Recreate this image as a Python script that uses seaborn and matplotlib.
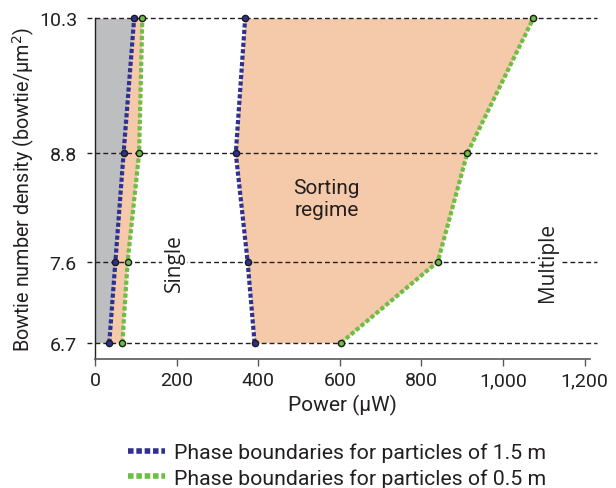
import matplotlib
matplotlib.use("Agg")
import matplotlib.pyplot as plt
import seaborn as sns
from matplotlib.lines import Line2D

density = [6.7, 7.6, 8.8, 10.3]
blue_left = [35, 50, 70, 96]
green_left = [67, 80, 108, 116]
blue_right = [391, 374, 345, 368]
green_right = [603, 840, 912, 1074]
xticks = [0, 200, 400, 600, 800, 1000, 1200]
xticklabels = ["0", "200", "400", "600", "800", "1,000", "1,200"]
yticklabels = ["6.7", "7.6", "8.8", "10.3"]
legend_labels = ["Phase boundaries for particles of 1.5 m",
                 "Phase boundaries for particles of 0.5 m"]

sns.set_style("white")
plt.rcParams['font.family'] = ['Roboto', 'DejaVu Sans']

BLUE = "#2E3192"
GREEN = "#6DBE45"
GRAY = "#BCBEC0"
ORANGE = "#F5CAAA"
TXT = "#231F20"

fig = plt.figure(figsize=(6.16, 4.89), dpi=100)
ax = fig.add_axes([95/616, 1-360/489, 495/616, (360-19.3)/489])
ax.set_xlim(0, 1213)
ax.set_ylim(6.52, 10.3)

# fills
ax.fill_betweenx(density, 0, blue_left, color=GRAY, lw=0, zorder=1)
ax.fill_betweenx(density, blue_left, green_left, color=ORANGE, lw=0, zorder=1)
ax.fill_betweenx(density, blue_right, green_right, color=ORANGE, lw=0, zorder=1)

# dashed reference lines
for d in density:
    ax.axhline(d, xmin=-0.016, xmax=1.014, clip_on=False, color=TXT,
               lw=1.0, ls=(0, (3.5, 2.2)), zorder=2)

ls_dot = (0, (1, 0.55))
for xs, c in [(blue_left, BLUE), (blue_right, BLUE), (green_left, GREEN), (green_right, GREEN)]:
    sns.lineplot(x=xs, y=density, sort=False, estimator=None, color=c, lw=3.0,
                 ls=ls_dot, ax=ax, zorder=3)
    ax.lines[-1].set_dash_capstyle("butt")
    sns.scatterplot(x=xs, y=density, color=c, s=20, edgecolor="#1a1a1a",
                    linewidth=1.0, ax=ax, zorder=4, clip_on=False)

box = dict(facecolor="white", edgecolor="none", pad=1.5)
ax.text(195, 7.6, "Single", rotation=90, ha="center", va="center", fontsize=15,
        color=TXT, family=["Open Sans", "DejaVu Sans"], bbox=box, zorder=5)
ax.text(1108, 7.6, "Multiple", rotation=90, ha="center", va="center", fontsize=15,
        color=TXT, family=["Open Sans", "DejaVu Sans"], bbox=box, zorder=5)
ax.text(567, 8.30, "Sorting\nregime", ha="center", va="center", fontsize=15,
        color=TXT, linespacing=1.2, zorder=5)

ax.set_xticks(xticks)
ax.set_xticklabels(xticklabels)
ax.set_yticks(density)
ax.set_yticklabels(yticklabels)
ax.tick_params(axis="x", direction="out", length=5, width=1, color="#58595B",
               labelsize=14, labelcolor=TXT, pad=4, bottom=True)
ax.tick_params(axis="y", length=0, labelsize=14, labelcolor=TXT, pad=13)

for s in ["top", "right"]:
    ax.spines[s].set_visible(False)
ax.spines["left"].set_color(TXT)
ax.spines["left"].set_linewidth(1.0)
ax.spines["bottom"].set_color("#58595B")
ax.spines["bottom"].set_linewidth(1.2)

ax.set_xlabel("Power (μW)", fontsize=15, color=TXT, labelpad=3)
ax.set_ylabel("Bowtie number density (bowtie/μm$^2$)", fontsize=14.2, color=TXT, labelpad=1)

handles = [Line2D([], [], color=BLUE, lw=4, ls=(0, (1, 0.5))),
           Line2D([], [], color=GREEN, lw=4, ls=(0, (1, 0.5)))]
for h in handles:
    h.set_dash_capstyle("butt")
fig.legend(handles, legend_labels, loc="upper left", bbox_to_anchor=(0.19, 1-433/489),
           frameon=False, fontsize=15.3, handlelength=1.75, handletextpad=0.42,
           labelspacing=0.28, borderpad=0, labelcolor=TXT)

fig.savefig("out.png", dpi=100)
